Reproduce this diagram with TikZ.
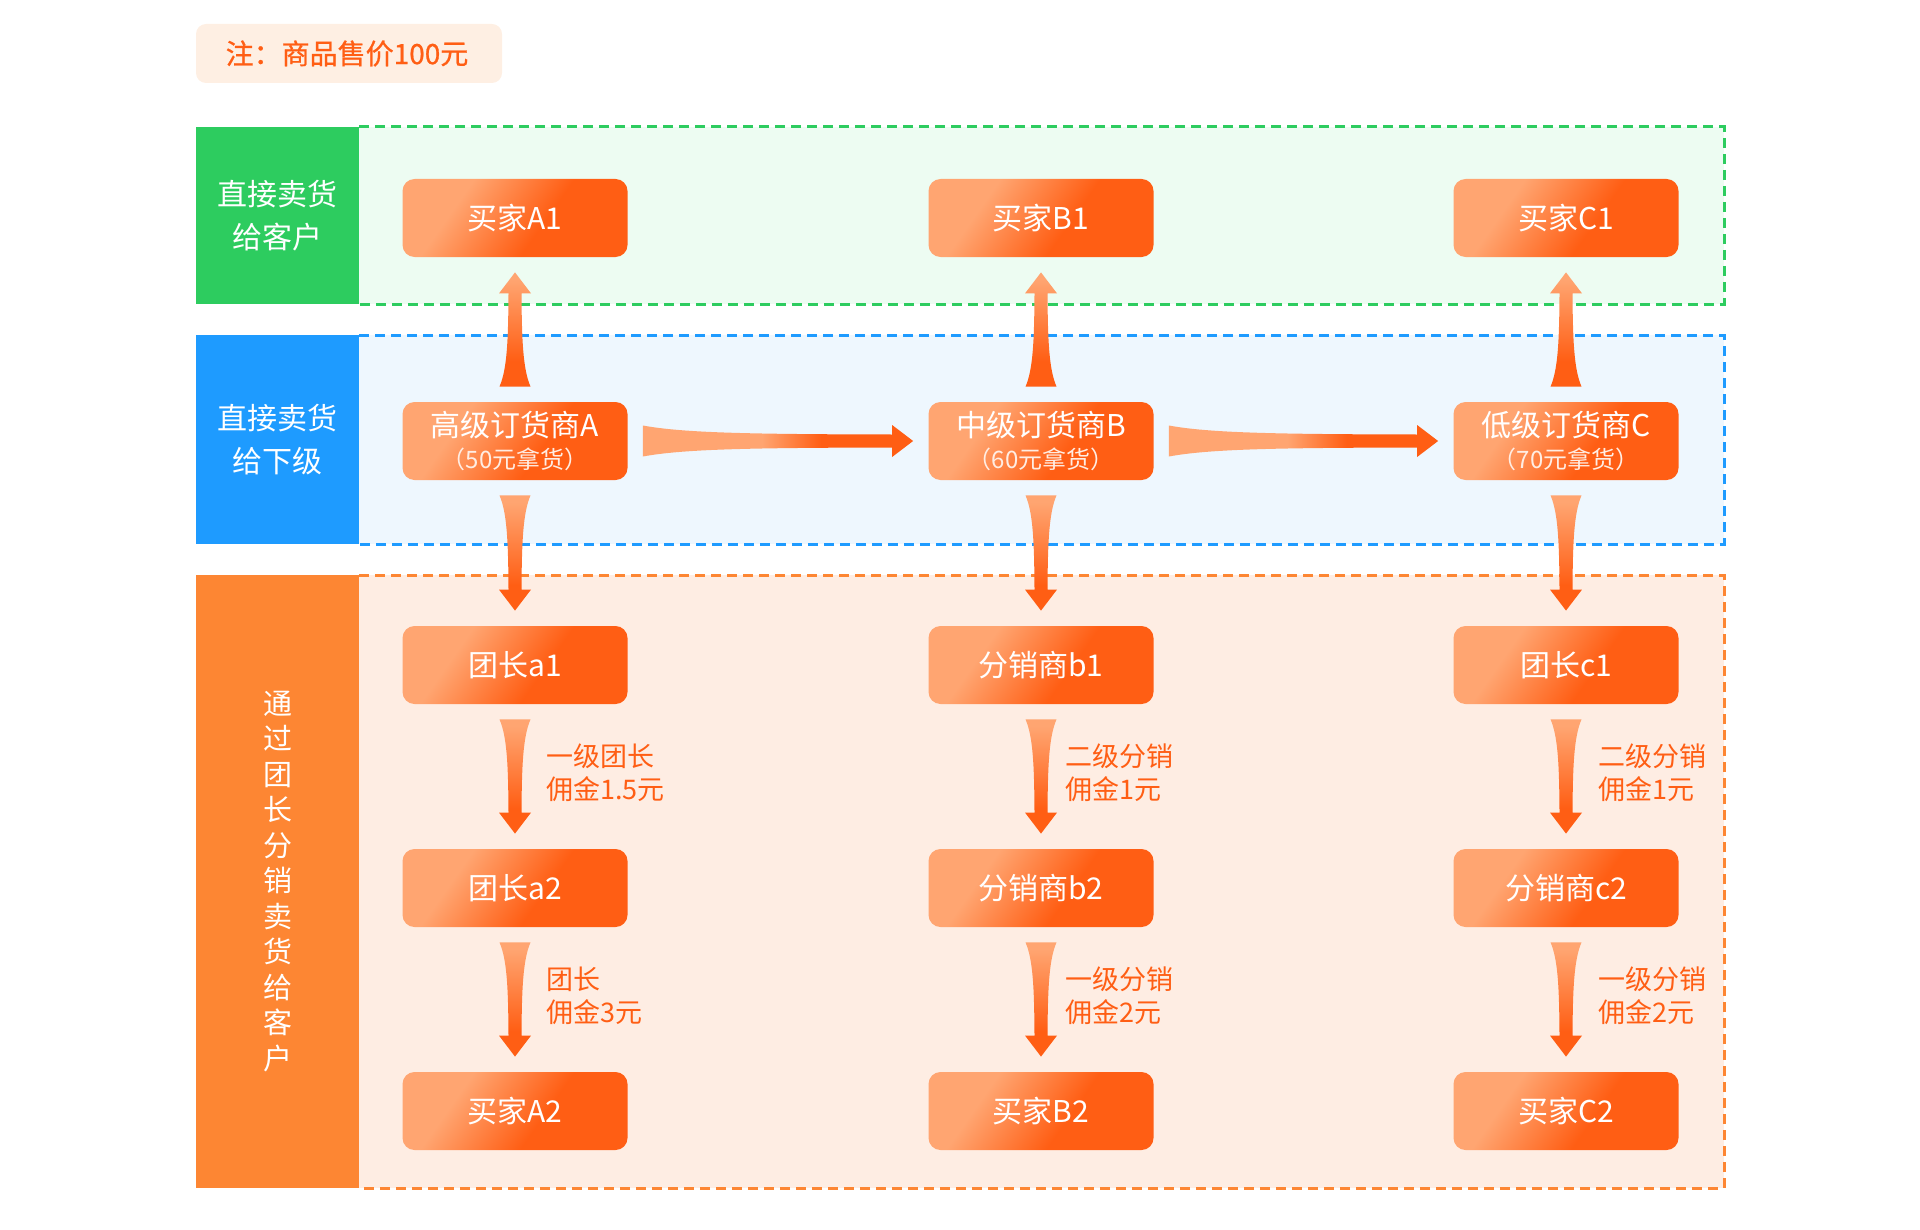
\documentclass[tikz,border=0pt]{standalone}
\usepackage{fontspec}
\setmainfont{Noto Sans CJK SC}
\newfontfamily\notefont[FakeBold=0.8]{Noto Sans CJK SC}
\usetikzlibrary{calc}

\definecolor{arrL}{HTML}{FFA571}
\definecolor{arrD}{HTML}{FF5E14}
\definecolor{grnBar}{HTML}{2DCC5F}
\definecolor{grnBg}{HTML}{EDFCF2}
\definecolor{bluBar}{HTML}{1E9BFF}
\definecolor{bluBg}{HTML}{EEF7FE}
\definecolor{orgBar}{HTML}{FD8633}
\definecolor{orgBg}{HTML}{FEEDE3}
\definecolor{noteBg}{HTML}{FEEFE3}

\pgfdeclarehorizontalshading{nodefill}{100bp}{color(0bp)=(arrL); color(33bp)=(arrL); color(58bp)=(arrD); color(100bp)=(arrD)}
\pgfdeclarehorizontalshading{htaper}{100bp}{color(0bp)=(arrL); color(47bp)=(arrL); color(58bp)=(arrD); color(100bp)=(arrD)}
\pgfdeclareverticalshading{vtaper}{100bp}{color(0bp)=(arrD); color(36bp)=(arrD); color(72bp)=(arrL); color(100bp)=(arrL)}

% purchase price line under the agent name
\newcommand\pricetxt[1]{{\fontsize{12}{13}\selectfont\color{white!80!arrL}#1}}

% fat arrow with a flared tail, from #1 to #2
\newcommand\taper[3]{%
  \shade[shading=#3] let \p1=(#1), \p2=(#2),
      \n1={veclen(\x2-\x1,\y2-\y1)}, \n2={atan2(\y2-\y1,\x2-\x1)} in
    [shift={(\p1)}, rotate=\n2]
    (0pt,7.75pt) .. controls (0.15*\n1*1pt,4pt) and (0.4*\n1*1pt,3.4pt) .. (\n1*1pt-10.5pt,3.25pt)
    -- (\n1*1pt-10.5pt,8pt) -- (\n1*1pt,0pt) -- (\n1*1pt-10.5pt,-8pt) -- (\n1*1pt-10.5pt,-3.25pt)
    .. controls (0.4*\n1*1pt,-3.4pt) and (0.15*\n1*1pt,-4pt) .. (0pt,-7.75pt) -- cycle;
}

\tikzset{
  seller/.style={shade, shading=nodefill, shading angle=-35, rounded corners=6pt,
    minimum width=112.5pt, minimum height=39pt, inner sep=0pt, text=white,
    align=center, font=\fontsize{15}{17}\selectfont},
  bandtxt/.style={text=white, align=center, font=\fontsize{15}{21.5}\selectfont},
  fee/.style={anchor=west, inner sep=0pt, text=arrD, align=left, font=\fontsize{13.5}{16.5}\selectfont},
  band/.style={dash pattern=on 5pt off 3pt, line width=1.5pt},
}

\begin{document}
\begin{tikzpicture}[x=0.5pt, y=-0.5pt]
  \useasboundingbox (0,0) rectangle (1920,1230);

  % note
  \fill[noteBg, rounded corners=5pt] (196,24) rectangle (502,83);
  \node[text=arrD, font=\notefont\fontsize{14}{16}\selectfont] (note) at (347,53.5) {注：商品售价100元};

  % bands
  \fill[grnBg] (359,127) rectangle (1724,304);
  \draw[band, grnBar] (359,127) -- (1724,127) -- (1724,304) -- (359,304);
  \fill[grnBar] (196,127) rectangle (359,304);
  \node[bandtxt] (lblCust) at (277.5,215.5) {直接卖货\\给客户};

  \fill[bluBg] (359,335) rectangle (1724,544);
  \draw[band, bluBar] (359,335) -- (1724,335) -- (1724,544) -- (359,544);
  \fill[bluBar] (196,335) rectangle (359,544);
  \node[bandtxt] (lblAgent) at (277.5,439.5) {直接卖货\\给下级};

  \fill[orgBg] (359,575) rectangle (1724,1188);
  \draw[band, orgBar] (359,575) -- (1724,575) -- (1724,1188) -- (359,1188);
  \fill[orgBar] (196,575) rectangle (359,1188);
  \node[bandtxt, font=\fontsize{14.5}{17.75}\selectfont] (lblTeam) at (277.5,881.5)
    {通\\过\\团\\长\\分\\销\\卖\\货\\给\\客\\户};

  % nodes
  \node[seller] (buyA1) at (515,218) {买家A1};
  \node[seller] (buyB1) at (1041,218) {买家B1};
  \node[seller] (buyC1) at (1566,218) {买家C1};

  \node[seller] (agentA) at (515,441) {高级订货商A\\[-1pt]\pricetxt{（50元拿货）}};
  \node[seller] (agentB) at (1041,441) {中级订货商B\\[-1pt]\pricetxt{（60元拿货）}};
  \node[seller] (agentC) at (1566,441) {低级订货商C\\[-1pt]\pricetxt{（70元拿货）}};

  \node[seller] (leadA1) at (515,665) {团长a1};
  \node[seller] (distB1) at (1041,665) {分销商b1};
  \node[seller] (leadC1) at (1566,665) {团长c1};

  \node[seller] (leadA2) at (515,888) {团长a2};
  \node[seller] (distB2) at (1041,888) {分销商b2};
  \node[seller] (distC2) at (1566,888) {分销商c2};

  \node[seller] (buyA2) at (515,1111) {买家A2};
  \node[seller] (buyB2) at (1041,1111) {买家B2};
  \node[seller] (buyC2) at (1566,1111) {买家C2};

  % arrows
  \foreach \c in {A,B,C}{
    \taper{$(agent\c.north)+(0,-15)$}{$(buy\c1.south)+(0,15)$}{vtaper}
  }
  \taper{$(agentA.east)+(15,0)$}{$(agentB.west)+(-15,0)$}{htaper}
  \taper{$(agentB.east)+(15,0)$}{$(agentC.west)+(-15,0)$}{htaper}

  \taper{$(agentA.south)+(0,15)$}{$(leadA1.north)+(0,-15)$}{vtaper}
  \taper{$(agentB.south)+(0,15)$}{$(distB1.north)+(0,-15)$}{vtaper}
  \taper{$(agentC.south)+(0,15)$}{$(leadC1.north)+(0,-15)$}{vtaper}

  \taper{$(leadA1.south)+(0,15)$}{$(leadA2.north)+(0,-15)$}{vtaper}
  \taper{$(distB1.south)+(0,15)$}{$(distB2.north)+(0,-15)$}{vtaper}
  \taper{$(leadC1.south)+(0,15)$}{$(distC2.north)+(0,-15)$}{vtaper}

  \taper{$(leadA2.south)+(0,15)$}{$(buyA2.north)+(0,-15)$}{vtaper}
  \taper{$(distB2.south)+(0,15)$}{$(buyB2.north)+(0,-15)$}{vtaper}
  \taper{$(distC2.south)+(0,15)$}{$(buyC2.north)+(0,-15)$}{vtaper}

  % commission labels
  \node[fee] (feeA1) at ($(leadA1.south)!0.5!(leadA2.north)+(31,-4)$) {一级团长\\佣金1.5元};
  \node[fee] (feeB1) at ($(distB1.south)!0.5!(distB2.north)+(24,-4)$) {二级分销\\佣金1元};
  \node[fee] (feeC1) at ($(leadC1.south)!0.5!(distC2.north)+(32,-4)$) {二级分销\\佣金1元};
  \node[fee] (feeA2) at ($(leadA2.south)!0.5!(buyA2.north)+(31,-4)$) {团长\\佣金3元};
  \node[fee] (feeB2) at ($(distB2.south)!0.5!(buyB2.north)+(24,-4)$) {一级分销\\佣金2元};
  \node[fee] (feeC2) at ($(distC2.south)!0.5!(buyC2.north)+(32,-4)$) {一级分销\\佣金2元};
\end{tikzpicture}
\end{document}
